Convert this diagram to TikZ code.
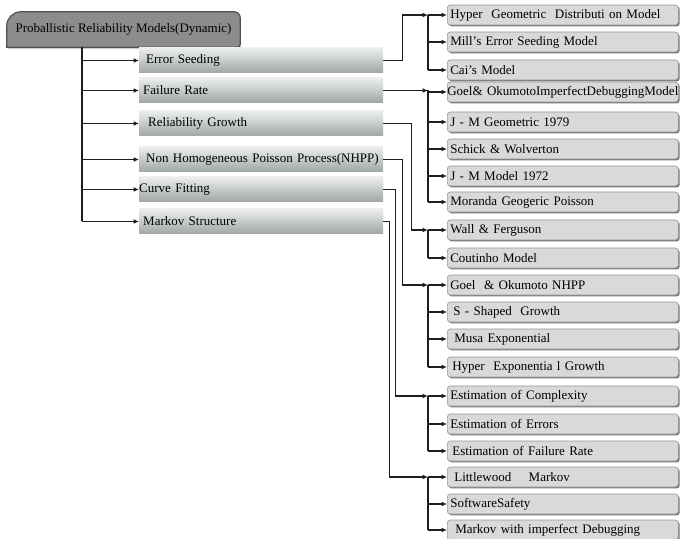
\documentclass[tikz,border=0pt]{standalone}
\usepackage{fontspec}
\setmainfont{Liberation Serif}
\usetikzlibrary{arrows.meta,shadows,backgrounds}
\definecolor{cattop}{RGB}{236,238,238}
\definecolor{catbot}{RGB}{158,166,166}
\definecolor{leaffill}{RGB}{217,217,217}
\definecolor{leafline}{RGB}{150,150,150}
\definecolor{leafshade}{RGB}{118,118,118}
\definecolor{rootfill}{RGB}{140,140,140}
\definecolor{rootline}{RGB}{80,80,80}
\definecolor{wiregray}{RGB}{30,30,30}

\begin{document}
\begin{tikzpicture}[x=1bp, y=-1bp,
    rootbox/.style={minimum width=233bp, minimum height=35bp, inner sep=0pt, font=\fontsize{13bp}{15bp}\selectfont},
    rootshape/.style={fill=rootfill, draw=rootline, line width=1.2bp, drop shadow={shadow xshift=1bp, shadow yshift=-2bp, fill=black!20, opacity=1}},
    catbox/.style={anchor=west, minimum height=25bp, text width=236bp, inner xsep=4bp, inner ysep=0pt, align=left, top color=cattop, bottom color=catbot, font=\fontsize{13bp}{15bp}\selectfont},
    leafbox/.style={anchor=west, minimum height=20bp, text width=225bp, inner xsep=3bp, inner ysep=0pt, align=left, rounded corners=3bp, draw=leafline, line width=0.6bp, fill=leaffill, drop shadow={shadow xshift=1.4bp, shadow yshift=-1.4bp, fill=leafshade, opacity=1}, font=\fontsize{13bp}{15bp}\selectfont},
    wire/.style={draw=wiregray, line width=1.2bp},
    wirearrow/.style={wire, -{Latex[length=5.5bp,width=5bp]}}
  ]
  \useasboundingbox (0,0) rectangle (680,539);

  % root and the six model families
  \node[rootbox] (root) at (123.5,29.5) {\raisebox{-2bp}{Proballistic Reliability Models(Dynamic)}};

  \node[catbox] (es) at (139,60.5) {\hspace{3bp}Error Seeding};
  \node[catbox] (fr) at (139,90.5) {Failure Rate};
  \node[catbox] (rg) at (139,123.5) {\hspace{5bp}Reliability Growth};
  \node[catbox] (nh) at (139,159.5) {\hspace{3bp}Non Homogeneous Poisson Process(NHPP)};
  \node[catbox] (cf) at (139,189.5) {\hspace{-4bp}Curve Fitting};
  \node[catbox] (ms) at (139,221.5) {Markov Structure};

  % models
  \node[leafbox] (hyp) at (447,15) {Hyper\ \ Geometric\ \ Distributi\ on\ Model};
  \node[leafbox] (mill) at (447,42) {Mill's Error Seeding Model};
  \node[leafbox] (cai) at (447,70) {Cai's Model};
  \node[leafbox] (goel) at (447,92) {\mbox{\hspace{-3bp}Goel\& OkumotoImperfectDebuggingModel}};
  \node[leafbox] (jmg) at (447,122) {J - M Geometric 1979};
  \node[leafbox] (sw) at (447,149) {Schick \& Wolverton};
  \node[leafbox] (jmm) at (447,176) {J - M Model 1972};
  \node[leafbox] (mor) at (447,202) {Moranda Geogeric Poisson};
  \node[leafbox] (wall) at (447,230) {Wall \& Ferguson};
  \node[leafbox] (cou) at (447,258) {Coutinho Model};
  \node[leafbox] (gon) at (447,285) {Goel\ \ \& Okumoto NHPP};
  \node[leafbox] (ssg) at (447,312) {\hspace{3bp}S - Shaped\ \ Growth};
  \node[leafbox] (musa) at (447,339) {\hspace{4bp}Musa Exponential};
  \node[leafbox] (hex) at (447,367) {\hspace{2bp}Hyper\ \ Exponentia l Growth};
  \node[leafbox] (ecx) at (447,396) {Estimation of Complexity};
  \node[leafbox] (eer) at (447,424) {Estimation of Errors};
  \node[leafbox] (efr) at (447,451) {\hspace{2bp}Estimation of Failure Rate};
  \node[leafbox] (lit) at (447,477) {\hspace{4bp}Littlewood\ \ \ \ Markov};
  \node[leafbox] (saf) at (447,504) {SoftwareSafety};
  \node[leafbox] (mid) at (447,530) {\hspace{5bp}Markov with imperfect Debugging};

  \coordinate (trunk) at (82,0);
  \coordinate (bus) at (428,0);

  % root to families
  \draw[wire] (root.south -| trunk) -- (ms.west -| trunk);
  \foreach \c in {es,fr,rg,nh,cf,ms}
    \draw[wirearrow] (\c.west -| trunk) -- (\c.west);

  % families to models
  \draw[wirearrow] (es.east) -- ++(19,0) |- (hyp.west -| bus);
  \draw[wire] (hyp.west -| bus) -- (cai.west -| bus);
  \foreach \m in {hyp,mill,cai}
    \draw[wirearrow] (\m.west -| bus) -- (\m.west);

  \draw[wirearrow] (fr.east) -- (fr.east -| bus);
  \draw[wire] (fr.east -| bus) -- (mor.west -| bus);
  \foreach \m in {goel,jmg,sw,jmm,mor}
    \draw[wirearrow] (\m.west -| bus) -- (\m.west);

  \draw[wirearrow] (rg.east) -- ++(28,0) |- (wall.west -| bus);
  \draw[wire] (wall.west -| bus) -- (cou.west -| bus);
  \foreach \m in {wall,cou}
    \draw[wirearrow] (\m.west -| bus) -- (\m.west);

  \draw[wirearrow] (nh.east) -- ++(19,0) |- (gon.west -| bus);
  \draw[wire] (gon.west -| bus) -- (hex.west -| bus);
  \foreach \m in {gon,ssg,musa,hex}
    \draw[wirearrow] (\m.west -| bus) -- (\m.west);

  \draw[wirearrow] (cf.east) -- ++(12,0) |- (ecx.west -| bus);
  \draw[wire] (ecx.west -| bus) -- (efr.west -| bus);
  \foreach \m in {ecx,eer,efr}
    \draw[wirearrow] (\m.west -| bus) -- (\m.west);

  \draw[wirearrow] (ms.east) -- ++(6,0) |- (lit.west -| bus);
  \draw[wire] (lit.west -| bus) -- (mid.west -| bus);
  \foreach \m in {lit,saf,mid}
    \draw[wirearrow] (\m.west -| bus) -- (\m.west);

  \begin{pgfonlayer}{background}
    \path[rootshape] (root.south west) [rounded corners=14bp] -- (root.north west) [rounded corners=6bp] -- (root.north east) [rounded corners=3bp] -- (root.south east) [sharp corners] -- cycle;
  \end{pgfonlayer}
\end{tikzpicture}
\end{document}
